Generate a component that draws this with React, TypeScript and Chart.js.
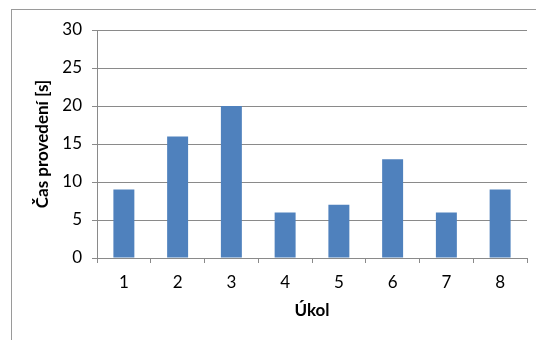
import React, { useEffect, useRef } from "react";
import { Chart, registerables } from "chart.js";

Chart.register(...registerables);

const categories = ["1", "2", "3", "4", "5", "6", "7", "8"];
const durations = [9, 16, 20, 6, 7, 13, 6, 9];
const yTicks = [0, 5, 10, 15, 20, 25, 30];

const FONT = "Lato, 'Open Sans', sans-serif";
const BAR = "#4f81bd";
const GRID = "#8a8a8a";

// Light frame around the chart area of the sheet
const framePlugin = {
  id: "frame",
  beforeDraw(chart: Chart) {
    const ctx = chart.ctx;
    ctx.save();
    ctx.strokeStyle = "#9a9a9a";
    ctx.lineWidth = 1;
    ctx.strokeRect(11.5, 9.5, chart.width + 10, chart.height + 10);
    ctx.restore();
  },
};

export default function App() {
  const ref = useRef<HTMLCanvasElement | null>(null);

  useEffect(() => {
    document.body.style.margin = "0";
    const canvas = ref.current;
    if (!canvas) return;
    const chart = new Chart(canvas, {
      type: "bar",
      data: {
        labels: categories,
        datasets: [
          {
            data: durations,
            backgroundColor: BAR,
            borderWidth: 0,
            categoryPercentage: 1,
            barPercentage: 0.39,
          },
        ],
      },
      plugins: [framePlugin],
      options: {
        animation: false,
        responsive: false,
        maintainAspectRatio: false,
        layout: { padding: { top: 30, right: 9, bottom: 0, left: 0 } },
        plugins: {
          legend: { display: false },
          tooltip: { enabled: false },
        },
        scales: {
          x: {
            afterFit(scale: any) {
              scale.height = 340 - 258;
            },
            border: { display: true, color: GRID, width: 1 },
            grid: {
              offset: true,
              drawOnChartArea: false,
              drawTicks: true,
              tickLength: 5,
              color: GRID,
            },
            ticks: {
              color: "#000",
              padding: 9,
              font: { family: FONT, size: 17 },
            },
            title: {
              display: true,
              text: "Úkol",
              color: "#000",
              font: { family: FONT, size: 17, weight: "bold" },
              padding: { top: 0, bottom: 19 },
            },
          },
          y: {
            min: 0,
            max: 30,
            afterFit(scale: any) {
              scale.width = 97;
            },
            afterBuildTicks(scale: any) {
              scale.ticks = yTicks.map((v) => ({ value: v }));
            },
            border: { display: true, color: GRID, width: 1 },
            grid: {
              color: GRID,
              tickLength: 5,
              drawTicks: true,
            },
            ticks: {
              color: "#000",
              padding: 10,
              font: { family: FONT, size: 17 },
            },
            title: {
              display: true,
              text: "Čas provedení [s]",
              color: "#000",
              font: { family: FONT, size: 17, weight: "bold" },
              padding: { top: 32, bottom: 0 },
            },
          },
        },
      },
    });
    return () => chart.destroy();
  }, []);

  return (
    <div style={{ width: 536, height: 340, position: "relative" }}>
      <canvas ref={ref} width={536} height={340} style={{ display: "block" }} />
    </div>
  );
}
